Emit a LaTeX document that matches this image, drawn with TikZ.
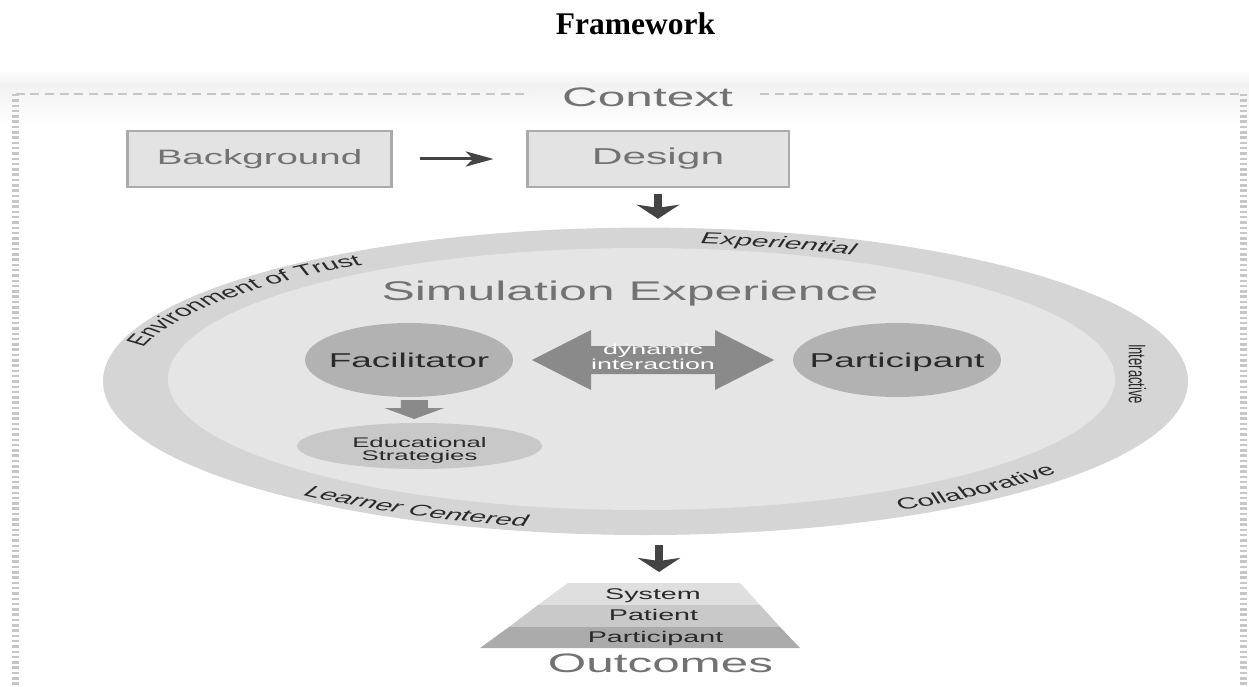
\documentclass[tikz,border=0pt]{standalone}
\usepackage{fontspec}
\setmainfont{Liberation Sans}
\newfontfamily\titleserif{Liberation Serif}
\usetikzlibrary{shapes.geometric,arrows.meta,decorations.text,calc}

\definecolor{txtgray}{HTML}{727272}
\definecolor{ringgray}{HTML}{D5D5D5}
\definecolor{coregray}{HTML}{E5E5E5}
\definecolor{rolegray}{HTML}{B2B2B2}
\definecolor{stratgray}{HTML}{C8C8C8}
\definecolor{flowgray}{HTML}{8A8A8A}
\definecolor{boxfill}{HTML}{E3E3E3}
\definecolor{boxline}{HTML}{ABABAB}
\definecolor{framegray}{HTML}{C6C6C6}
\definecolor{bandgray}{HTML}{F2F2F2}
\definecolor{arrowdark}{HTML}{444444}
\definecolor{labeldark}{HTML}{2A2A2A}
\definecolor{tierA}{HTML}{DFDFDF}
\definecolor{tierB}{HTML}{C9C9C9}
\definecolor{tierC}{HTML}{ABABAB}

\newcommand{\fsz}[1]{\fontsize{#1}{#1}\selectfont}

\tikzset{
  stagebox/.style={draw=boxline, line width=1.6pt, fill=boxfill, inner sep=0pt,
    minimum width=#1, minimum height=56pt, text=txtgray},
  rolenode/.style={ellipse, fill=rolegray, inner sep=0pt,
    minimum width=112.4pt, minimum height=74pt},
  roletext/.style={anchor=base, text=labeldark, font=\fsz{20}},
  tiertext/.style={anchor=base, text=labeldark, font=\fsz{15.5}},
  hflow/.style={draw=arrowdark, line width=3pt,
    -{Stealth[length=15pt, width=15pt, inset=4pt]}},
  vflow/.style={draw=arrowdark, line width=4.5pt,
    -{Stealth[length=14pt, width=22.7pt, inset=3pt]}},
  headline/.style={anchor=base, text=txtgray},
}

\begin{document}
\begin{tikzpicture}[x=1pt, y=-1pt]
  \useasboundingbox (0,0) rectangle (1249,687);
  \fill[white] (0,0) rectangle (1249,687);

  % title
  \node[anchor=base, font=\titleserif\bfseries\fsz{31.5}] (title) at (635.5,35) {Framework};

  % context frame: soft band and dashed border
  \shade[top color=white, bottom color=bandgray] (0,70) rectangle (1249,84);
  \shade[top color=bandgray, bottom color=white] (0,84) rectangle (1249,128);
  \draw[framegray, line width=2.5pt, dash pattern=on 9pt off 5.7pt] (15.5,94) -- (530,94);
  \draw[framegray, line width=2.5pt, dash pattern=on 9pt off 5.7pt] (760,94) -- (1243.5,94);
  \draw[framegray, line width=7pt, dash pattern=on 2.5pt off 2.8pt] (15.5,94) -- (15.5,687);
  \draw[framegray, line width=7pt, dash pattern=on 2.5pt off 2.8pt] (1243.5,94) -- (1243.5,687);

  % the model itself is set in a horizontally widened frame
  \begin{scope}[transform canvas={xscale=1.85}, x=0.540541pt, y=-1pt]
    \node[headline, font=\fsz{26.8}] (context) at (647.5,107) {Context};

    \node[stagebox=142.2pt, font=\fsz{20.8}] (bg) at (259.5,159) {Background};
    \node[stagebox=141.6pt, font=\fsz{23}] (design) at (658,159) {Design};
    \draw[hflow, shorten <=15.1pt, shorten >=17.3pt] (bg) -- (design);

    % simulation experience: outer ring and core
    \node[ellipse, fill=ringgray, inner sep=0pt, minimum width=586.5pt,
      minimum height=307.4pt] (outer) at (645.5,381.3) {};
    \node[ellipse, fill=coregray, inner sep=0pt, minimum width=511.9pt,
      minimum height=262pt] (core) at (641.5,379) {};

    \draw[vflow, shorten <=6pt, shorten >=8.6pt] (design.south) -- (design.south |- outer.north);

    % ring qualities
    \path[decorate, decoration={text along path, text color=labeldark,
        text={|\fsz{16}|Environment of Trust}}]
      ([shift={(-166.8:512 and 136)}]641.5,379)
      arc[start angle=-166.8, end angle=-90, x radius=512, y radius=136];
    \path[decorate, decoration={text along path, text color=labeldark,
        text={|\fsz{16}\itshape|Experiential}}]
      ([shift={(-83.4:512 and 136)}]641.5,379)
      arc[start angle=-83.4, end angle=-30, x radius=512, y radius=136];
    \path[decorate, decoration={text along path, text color=labeldark,
        text={|\fsz{16}|Collaborative}}]
      ([shift={(60.8:530 and 151)}]641.5,379)
      arc[start angle=60.8, end angle=5, x radius=530, y radius=151];
    \path[decorate, decoration={text along path, text color=labeldark,
        text={|\fsz{16}\itshape|Learner Centered}}]
      ([shift={(129.7:530 and 151)}]641.5,379)
      arc[start angle=129.7, end angle=55, x radius=530, y radius=151];
    \node[rotate=-90, text=labeldark, font=\fsz{13}, inner sep=0pt] (inter) at (1137.5,374) {Interactive};

    \node[headline, font=\fsz{27}] (simexp) at (630,300) {Simulation Experience};

    % roles
    \node[rolenode] (fac) at (409,360) {};
    \node[roletext] (factext) at ($(fac.center)+(0,7)$) {Facilitator};
    \node[rolenode] (par) at (897,360) {};
    \node[roletext] (partext) at ($(par.center)+(0,7)$) {Participant};

    % dynamic interaction double arrow
    \coordinate (dyn) at ($(fac.east)!0.5!(par.west)$);
    \fill[flowgray] ([shift={(-121,0)}]dyn) -- ([shift={(-62,-30)}]dyn)
      -- ([shift={(-62,-14)}]dyn) -- ([shift={(62,-14)}]dyn)
      -- ([shift={(62,-30)}]dyn) -- ([shift={(121,0)}]dyn)
      -- ([shift={(62,30)}]dyn) -- ([shift={(62,14)}]dyn)
      -- ([shift={(-62,14)}]dyn) -- ([shift={(-62,30)}]dyn) -- cycle;
    \node[align=center, text=white, font=\fontsize{14.5}{12}\selectfont, inner sep=0pt]
      (dyntext) at ([shift={(0,-3)}]dyn) {dynamic\\interaction};

    % educational strategies
    \node[ellipse, fill=stratgray, inner sep=0pt, minimum width=132.4pt,
      minimum height=46pt] (edu) at (419.5,446) {};
    \node[align=center, text=labeldark, font=\fontsize{13.9}{13}\selectfont, inner sep=0pt]
      (edutext) at ([shift={(0,4)}]edu.center) {Educational\\Strategies};
    \coordinate (fe) at ($(fac.south)!0.5!(edu.north)$);
    \fill[flowgray] ([shift={(-13.5,-10)}]fe) -- ([shift={(13.5,-10)}]fe)
      -- ([shift={(13.5,-2)}]fe) -- ([shift={(30,-2)}]fe) -- ([shift={(0,9)}]fe)
      -- ([shift={(-30,-2)}]fe) -- ([shift={(-13.5,-2)}]fe) -- cycle;

    % outcomes
    \coordinate (outtop) at (659,583);
    \draw[vflow, shorten <=10pt, shorten >=11pt] (outer.south -| outtop) -- (outtop);
    \fill[tierA] (568,583) -- (740,583) -- (760,605) -- (538,605) -- cycle;
    \fill[tierB] (538,605) -- (760,605) -- (780,627) -- (509,627) -- cycle;
    \fill[tierC] (509,627) -- (780,627) -- (800,648) -- (480,648) -- cycle;
    \node[tiertext] (sys) at (653,599) {System};
    \node[tiertext] (pat) at (653.5,620) {Patient};
    \node[tiertext] (parti) at (655.5,642) {Participant};
    \node[headline, font=\fsz{26.7}] (outcomes) at (660.5,672) {Outcomes};
  \end{scope}
\end{tikzpicture}
\end{document}
